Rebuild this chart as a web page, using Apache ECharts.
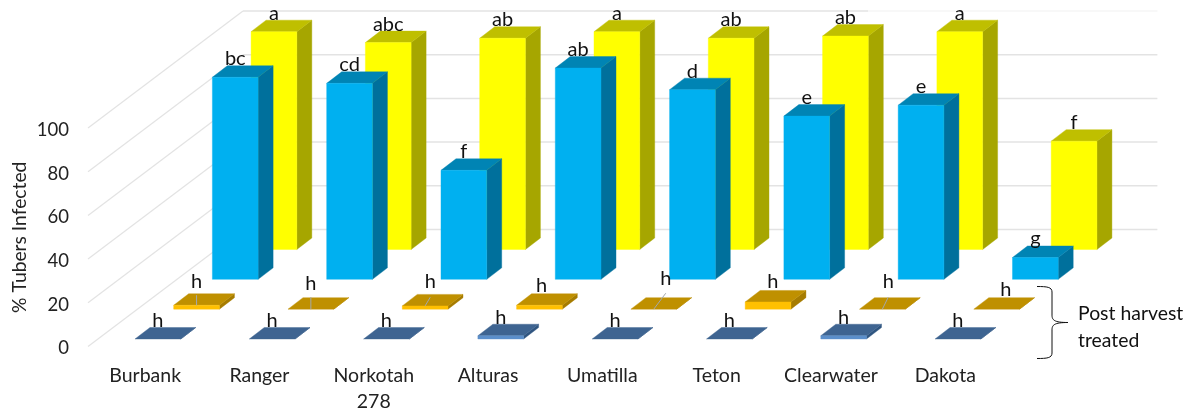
<!DOCTYPE html>
<html>
<head>
<meta charset="utf-8">
<style>html,body{margin:0;padding:0;background:#fff}#chart{width:1193px;height:416px}</style>
<script src="https://cdn.jsdelivr.net/npm/echarts@6/dist/echarts.min.js"></script>
</head>
<body>
<div id="chart"></div>
<script>
// Tuber infection by cultivar, four rows of boxes receding from the viewer.
const categories = ['Burbank', 'Ranger', 'Norkotah\n278', 'Alturas', 'Umatilla', 'Teton', 'Clearwater', 'Dakota'];
const yTicks = [0, 20, 40, 60, 80, 100];

// Rows from back to front
const backValues = [99.7, 94.7, 96.7, 99.7, 96.7, 97.7, 99.7, 49.6];
const backLetters = ['a', 'abc', 'ab', 'a', 'ab', 'ab', 'a', 'f'];
const midValues = [92.5, 89.7, 49.9, 96.7, 86.8, 74.7, 79.7, 10];
const midLetters = ['bc', 'cd', 'f', 'ab', 'd', 'e', 'e', 'g'];
const treatedBackValues = [1.8, 0, 1.5, 1.8, 0, 3.3, 0, 0];
const treatedBackLetters = ['h', 'h', 'h', 'h', 'h', 'h', 'h', 'h'];
const treatedFrontValues = [0, 0, 0, 1.5, 0, 0, 1.5, 0];
const treatedFrontLetters = ['h', 'h', 'h', 'h', 'h', 'h', 'h', 'h'];

// Error whiskers on the treated back row (null: hidden by the box)
const whiskerTops = [6.4, 5.5, 5.5, null, 7.3, null, 5.5, null];
// Sideways lean of each whisker and its letter, as a share of a category's width
const whiskerLean = [0, 0, 0.045, 0.018, 0.105, 0.042, 0.052, 0.08];
// Height of each letter's baseline above the row's floor, in axis units
const letterHeights = [9.6, 8.7, 9.6, 7.5, 11, 9.6, 9.6, 5.6];

// Projection of the depth axis onto the page
const WALL_DX = 155, WALL_DY = 117;
const ROW_DX0 = 12.7, ROW_DX = 38.7, ROW_DY0 = 7.5, ROW_DY = 29.83;
const BOX_DX = 15, BOX_DY = 11.5, BOX_SHARE = 0.4;
const TEXT_FONT = 'Lato, "Open Sans", sans-serif';
const DESCENT = 3;
const TOP_LINE_FADE_X = 868;

const palette = {
  back: { front: '#ffff00', top: '#bfbf00', side: '#a6a600' },
  mid: { front: '#00b0f0', top: '#0084b4', side: '#00709c' },
  treatedBack: { front: '#ffc000', top: '#bf9000', side: '#a67c00' },
  treatedFront: { front: '#5b8fcb', top: '#3e6491', side: '#2f5580' }
};

function poly(points, fill) {
  return { type: 'polygon', shape: { points }, style: { fill, stroke: fill, lineWidth: 0.4 }, silent: true };
}

function boxSeries(name, row, values, letters, colors, extra) {
  return {
    name,
    type: 'custom',
    coordinateSystem: 'cartesian2d',
    encode: { x: 0, y: 1 },
    data: values.map((v, i) => [i, v]),
    clip: false,
    silent: true,
    renderItem(params, api) {
      const i = api.value(0);
      const v = api.value(1);
      const band = api.size([1, 0])[0];
      const w = band * BOX_SHARE;
      const shiftX = ROW_DX0 + ROW_DX * row;
      const shiftY = ROW_DY0 + ROW_DY * row;
      const base = api.coord([i, 0]);
      const top = api.coord([i, v]);
      const l = base[0] - w / 2 + shiftX;
      const r = l + w;
      const b = base[1] - shiftY;
      const t = top[1] - shiftY;
      const children = [
        poly([[r, b], [r + BOX_DX, b - BOX_DY], [r + BOX_DX, t - BOX_DY], [r, t]], colors.side),
        poly([[l, t], [r, t], [r + BOX_DX, t - BOX_DY], [l + BOX_DX, t - BOX_DY]], colors.top)
      ];
      if (b - t > 0.5) {
        children.push(poly([[l, b], [r, b], [r, t], [l, t]], colors.front));
      }
      let labelX = l + w / 2;
      let baseline = t - BOX_DY;
      if (extra) {
        const unit = base[1] - api.coord([i, 1])[1];
        labelX += extra.lean[i] * band;
        baseline = b - extra.heights[i] * unit;
        if (extra.tops[i] !== null) {
          children.push({
            type: 'line',
            shape: { x1: l + w / 2, y1: t, x2: labelX, y2: b - extra.tops[i] * unit },
            style: { stroke: '#a3a8ad', lineWidth: 1 },
            silent: true
          });
        }
      }
      children.push({
        type: 'text',
        silent: true,
        style: {
          text: letters[i],
          x: labelX,
          y: baseline + DESCENT,
          align: 'center',
          verticalAlign: 'bottom',
          fill: '#111',
          font: '20px ' + TEXT_FONT
        }
      });
      return { type: 'group', children };
    }
  };
}

const wallSeries = {
  name: 'Walls',
  type: 'custom',
  coordinateSystem: 'cartesian2d',
  encode: { x: 0, y: 1 },
  data: yTicks.map(t => [0, t]),
  clip: false,
  silent: true,
  renderItem(params, api) {
    const tick = api.value(1);
    const y = api.coord([0, tick])[1];
    const sys = params.coordSys;
    const x0 = sys.x;
    const x1 = x0 + WALL_DX;
    const y1 = y - WALL_DY;
    const xEnd = sys.x + sys.width + WALL_DX;
    const isTop = tick === yTicks[yTicks.length - 1];
    const children = [
      {
        type: 'line',
        shape: { x1: x0, y1: y, x2: x1, y2: y1 },
        style: { stroke: '#e3e3e3', lineWidth: 1.2 },
        silent: true
      },
      {
        type: 'line',
        shape: { x1, y1, x2: isTop ? TOP_LINE_FADE_X : xEnd, y2: y1 },
        style: { stroke: '#e3e3e3', lineWidth: 1.5 },
        silent: true
      }
    ];
    if (isTop) {
      // The uppermost rule pales towards its right end
      children.push({
        type: 'line',
        shape: { x1: TOP_LINE_FADE_X, y1, x2: xEnd, y2: y1 },
        style: { stroke: '#f6f6f6', lineWidth: 1.5 },
        silent: true
      });
    }
    return { type: 'group', children };
  }
};

// Curly bracket beside the two treated rows
const bracketStyle = { fill: 'none', stroke: '#111', lineWidth: 1 };
const bracketCurve = (x1, y1, cpx1, cpy1, cpx2, cpy2, x2, y2) => ({
  type: 'bezierCurve', silent: true, style: bracketStyle,
  shape: { x1, y1, cpx1, cpy1, cpx2, cpy2, x2, y2 }
});
const bracketLine = (x1, y1, x2, y2) => ({
  type: 'line', silent: true, style: bracketStyle, shape: { x1, y1, x2, y2 }
});

const chart = echarts.init(document.getElementById('chart'));
chart.setOption({
  animation: false,
  backgroundColor: '#fff',
  textStyle: { fontFamily: TEXT_FONT },
  grid: { left: 88, right: 190.6, top: 128, bottom: 69.5, outerBoundsMode: 'none' },
  xAxis: {
    type: 'category',
    data: categories,
    axisLine: { show: false },
    axisTick: { show: false },
    splitLine: { show: false },
    axisLabel: { color: '#222', fontSize: 19.5, fontFamily: TEXT_FONT, margin: 16, lineHeight: 26, interval: 0 }
  },
  yAxis: {
    type: 'value',
    min: 0,
    max: 100,
    interval: 20,
    name: '% Tubers Infected',
    nameLocation: 'middle',
    nameGap: 59,
    nameMoveOverlap: false,
    nameTextStyle: { color: '#222', fontSize: 19.3, fontFamily: TEXT_FONT },
    axisLine: { show: false },
    axisTick: { show: false },
    splitLine: { show: false },
    axisLabel: { color: '#222', fontSize: 18.5, fontFamily: TEXT_FONT, margin: 19, verticalAlign: 'top', lineHeight: 4 }
  },
  series: [
    wallSeries,
    boxSeries('Back row', 3, backValues, backLetters, palette.back),
    boxSeries('Middle row', 2, midValues, midLetters, palette.mid),
    boxSeries('Treated back row', 1, treatedBackValues, treatedBackLetters, palette.treatedBack,
      { tops: whiskerTops, lean: whiskerLean, heights: letterHeights }),
    boxSeries('Treated front row', 0, treatedFrontValues, treatedFrontLetters, palette.treatedFront)
  ],
  graphic: [
    bracketCurve(1037, 286.5, 1047, 286.5, 1052, 287, 1052, 292),
    bracketLine(1052, 292, 1052, 315),
    bracketCurve(1052, 315, 1052, 320, 1054, 322.5, 1068, 322.5),
    bracketCurve(1068, 322.5, 1054, 322.5, 1052, 325, 1052, 330),
    bracketLine(1052, 330, 1052, 353),
    bracketCurve(1052, 353, 1052, 358, 1047, 358.5, 1037, 358.5),
    { type: 'text', left: 1078, top: 304, silent: true, style: { text: 'Post harvest', fill: '#111', font: '19.4px ' + TEXT_FONT } },
    { type: 'text', left: 1078, top: 331, silent: true, style: { text: 'treated', fill: '#111', font: '19.4px ' + TEXT_FONT } }
  ]
});
</script>
</body>
</html>
